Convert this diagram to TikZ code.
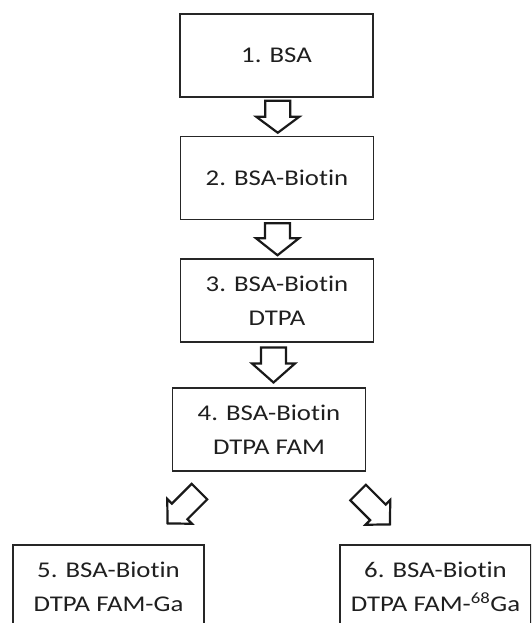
\documentclass[tikz,border=0pt]{standalone}
\usepackage{fontspec}
\setmainfont{Carlito}[FakeStretch=1.19, Ligatures=NoCommon]
\usepackage{xcolor}
\usepackage{tikz}
\usetikzlibrary{calc}

\tikzset{
	stepbox/.style={draw=black!85, line width=1.5pt, minimum width=193pt, minimum height=83pt, align=center, text=black!88, font=\fontsize{22.5}{34}\selectfont, inner sep=0pt},
	arrowline/.style={draw=black!90, line width=2.2pt, line join=miter},
	pics/blockarrow/.style args={#1/#2/#3/#4}{code={
		\draw[arrowline] (-#1/2,-#2) -- (#1/2-#4,-#2) -- (#1/2-#4,-#3) -- (#1/2,0) -- (#1/2-#4,#3) -- (#1/2-#4,#2) -- (-#1/2,#2) -- cycle;
	}}
}

\begin{document}
\begin{tikzpicture}[x=1pt, y=1pt]
		\useasboundingbox (0,0) rectangle (531,623);
		\clip (0,0) rectangle (531,623);
		\node[stepbox] (bsa) at (276.5,567.5) {1. BSA};
		\node[stepbox] (biotin) at (277,445) {2. BSA-Biotin};
		\node[stepbox] (dtpa) at (277,322.5) {3. BSA-Biotin\\DTPA};
		\node[stepbox] (fam) at (269,193.5) {4. BSA-Biotin\\DTPA FAM};
		\node[stepbox, minimum width=191pt] (ga) at (108.5,36.5) {5. BSA-Biotin\\DTPA FAM-Ga};
		\node[stepbox, minimum width=191pt] (hotga) at (435.5,36.5) {6. BSA-Biotin\\DTPA FAM-\textsuperscript{68}Ga};
		\pic[rotate=-90] at ($(bsa.south)!0.5!(biotin.north)+(1,0)$) {blockarrow={32/12.5/21.5/16}};
		\pic[rotate=-90] at ($(biotin.south)!0.5!(dtpa.north)+(0.5,0)$) {blockarrow={32/12.5/21.5/17}};
		\pic[rotate=-90] at ($(dtpa.south)!0.5!(fam.north)+(0.5,0)$) {blockarrow={35/12.5/21.5/19}};
		\coordinate (toga) at (183.5,115.5);
		\coordinate (tohotga) at (374,114.5);
		\pic[rotate=225] at (toga) {blockarrow={45/11/17.5/17}};
		\pic[rotate=-45] at (tohotga) {blockarrow={45/11/17.5/17}};
\end{tikzpicture}
\end{document}
